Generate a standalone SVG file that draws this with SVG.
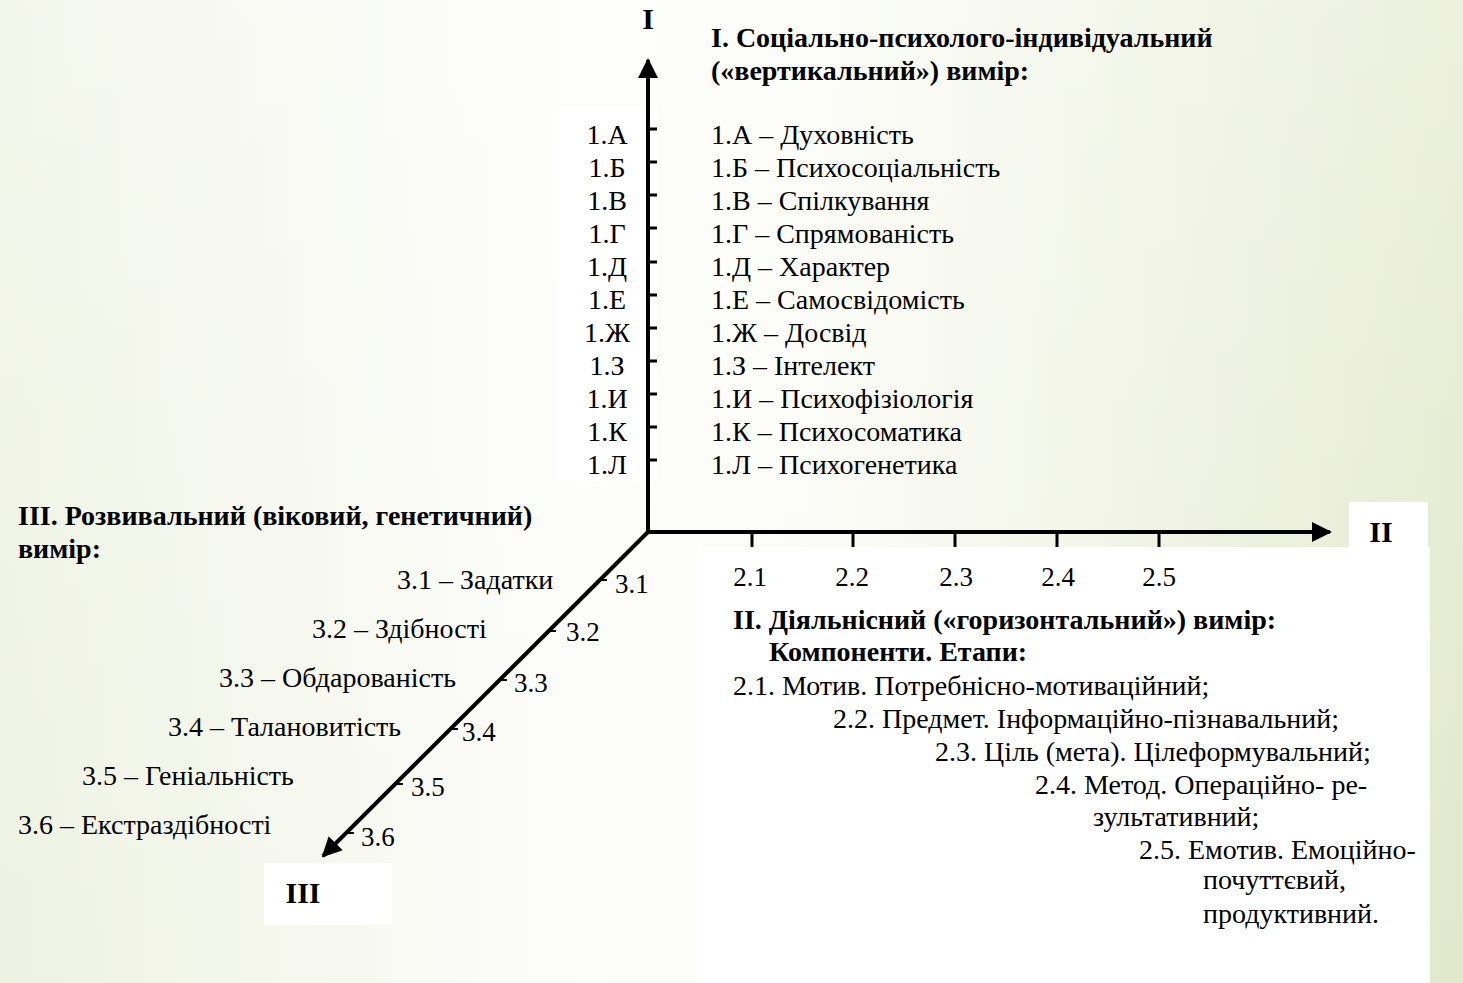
<svg xmlns="http://www.w3.org/2000/svg" width="1463" height="983" viewBox="0 0 1463 983">
<defs>
<linearGradient id="bg" x1="0" y1="0" x2="1" y2="0">
<stop offset="0" stop-color="#eef2e1"/>
<stop offset="0.4" stop-color="#fdfdfb"/>
<stop offset="0.55" stop-color="#fbfcf6"/>
<stop offset="1" stop-color="#e2e8cb"/>
</linearGradient>
<linearGradient id="bgv" x1="0" y1="0" x2="0" y2="1">
<stop offset="0" stop-color="#ffffff" stop-opacity="0.35"/>
<stop offset="1" stop-color="#ffffff" stop-opacity="0"/>
</linearGradient>
<marker id="ah" viewBox="0 0 10 10" refX="9" refY="5" markerWidth="5" markerHeight="5" orient="auto" markerUnits="strokeWidth">
<path d="M0,0 L10,5 L0,10 z" fill="#000"/>
</marker>
<style>
text{font-family:"Liberation Serif","Times New Roman",serif;fill:#000;}
.t{font-size:28px;}
.b{font-size:28px;font-weight:bold;}
.ax{font-size:30px;font-weight:bold;}
.n{font-size:27px;}
.axis{stroke:#000;stroke-width:4;fill:none;}
.tick{stroke:#000;stroke-width:3;}
.tick3{stroke:#000;stroke-width:2;}
</style>
</defs>
<rect x="0" y="0" width="1463" height="983" fill="url(#bg)"/>
<rect x="0" y="0" width="1463" height="983" fill="url(#bgv)"/>
<rect x="556" y="107" width="102" height="375" fill="#ffffff"/>
<rect x="697" y="547" width="733" height="436" fill="#ffffff"/>
<rect x="1349" y="502" width="79" height="45" fill="#ffffff"/>
<rect x="264" y="863" width="128" height="62" fill="#ffffff"/>

<g id="connectors">
<line class="axis" x1="648" y1="534" x2="648" y2="60" marker-end="url(#ah)"/>
<line class="axis" x1="646" y1="532" x2="1330" y2="532" marker-end="url(#ah)"/>
<line class="axis" x1="648" y1="532" x2="323" y2="856" marker-end="url(#ah)"/>
</g>

<g id="axis-I">
<text class="ax" x="648" y="29" text-anchor="middle">I</text>
<g id="ticks-I" class="tick">
<line x1="648" y1="129" x2="657" y2="129"/>
<line x1="648" y1="162" x2="657" y2="162"/>
<line x1="648" y1="195" x2="657" y2="195"/>
<line x1="648" y1="228" x2="657" y2="228"/>
<line x1="648" y1="262" x2="657" y2="262"/>
<line x1="648" y1="295" x2="657" y2="295"/>
<line x1="648" y1="328" x2="657" y2="328"/>
<line x1="648" y1="361" x2="657" y2="361"/>
<line x1="648" y1="394" x2="657" y2="394"/>
<line x1="648" y1="427" x2="657" y2="427"/>
<line x1="648" y1="460" x2="657" y2="460"/>
</g>
<g id="labels-I" class="t" text-anchor="middle">
<text x="607" y="144">1.А</text>
<text x="607" y="177">1.Б</text>
<text x="607" y="210">1.В</text>
<text x="607" y="243">1.Г</text>
<text x="607" y="276">1.Д</text>
<text x="607" y="309">1.Е</text>
<text x="607" y="342">1.Ж</text>
<text x="607" y="375">1.З</text>
<text x="607" y="408">1.И</text>
<text x="607" y="441">1.К</text>
<text x="607" y="474">1.Л</text>
</g>
</g>

<g id="legend-I">
<text class="b" x="711" y="47">І. Соціально-психолого-індивідуальний</text>
<text class="b" x="711" y="80">(«вертикальний») вимір:</text>
<text class="t" x="711" y="144">1.А – Духовність</text>
<text class="t" x="711" y="177">1.Б – Психосоціальність</text>
<text class="t" x="711" y="210">1.В – Спілкування</text>
<text class="t" x="711" y="243">1.Г – Спрямованість</text>
<text class="t" x="711" y="276">1.Д – Характер</text>
<text class="t" x="711" y="309">1.Е – Самосвідомість</text>
<text class="t" x="711" y="342">1.Ж – Досвід</text>
<text class="t" x="711" y="375">1.З – Інтелект</text>
<text class="t" x="711" y="408">1.И – Психофізіологія</text>
<text class="t" x="711" y="441">1.К – Психосоматика</text>
<text class="t" x="711" y="474">1.Л – Психогенетика</text>
</g>

<g id="axis-II">
<text class="ax" x="1381" y="542" text-anchor="middle">II</text>
<g id="ticks-II" class="tick">
<line x1="752" y1="532" x2="752" y2="547"/>
<line x1="853" y1="532" x2="853" y2="547"/>
<line x1="955" y1="532" x2="955" y2="547"/>
<line x1="1057" y1="532" x2="1057" y2="547"/>
<line x1="1159" y1="532" x2="1159" y2="547"/>
</g>
<g id="labels-II" class="n" text-anchor="middle">
<text x="750" y="586">2.1</text>
<text x="852" y="586">2.2</text>
<text x="956" y="586">2.3</text>
<text x="1058" y="586">2.4</text>
<text x="1159" y="586">2.5</text>
</g>
</g>

<g id="legend-II">
<text class="b" x="733" y="629">ІІ. Діяльнісний («горизонтальний») вимір:</text>
<text class="b" x="769" y="661">Компоненти. Етапи:</text>
<text class="t" x="733" y="695">2.1. Мотив. Потребнісно-мотиваційний;</text>
<text class="t" x="833" y="728">2.2. Предмет. Інформаційно-пізнавальний;</text>
<text class="t" x="935" y="761">2.3. Ціль (мета). Цілеформувальний;</text>
<text class="t" x="1035" y="794">2.4. Метод. Операційно- ре-</text>
<text class="t" x="1093" y="826">зультативний;</text>
<text class="t" x="1139" y="859">2.5. Емотив. Емоційно-</text>
<text class="t" x="1203" y="889">почуттєвий,</text>
<text class="t" x="1203" y="923">продуктивний.</text>
</g>

<g id="axis-III">
<text class="ax" x="303" y="903" text-anchor="middle">III</text>
<g id="ticks-III" class="tick3">
<line x1="600" y1="580" x2="607" y2="580"/>
<line x1="549" y1="631" x2="556" y2="631"/>
<line x1="500" y1="680" x2="507" y2="680"/>
<line x1="451" y1="729" x2="458" y2="729"/>
<line x1="396" y1="784" x2="403" y2="784"/>
<line x1="347" y1="833" x2="354" y2="833"/>
</g>
<g id="labels-III" class="n">
<text x="615" y="593">3.1</text>
<text x="566" y="641">3.2</text>
<text x="514" y="692">3.3</text>
<text x="462" y="741">3.4</text>
<text x="411" y="796">3.5</text>
<text x="361" y="846">3.6</text>
</g>
</g>

<g id="legend-III">
<text class="b" x="18" y="525">ІІІ. Розвивальний (віковий, генетичний)</text>
<text class="b" x="18" y="558">вимір:</text>
<text class="t" x="397" y="589">3.1 – Задатки</text>
<text class="t" x="312" y="638">3.2 – Здібності</text>
<text class="t" x="219" y="687">3.3 – Обдарованість</text>
<text class="t" x="168" y="736">3.4 – Талановитість</text>
<text class="t" x="82" y="785">3.5 – Геніальність</text>
<text class="t" x="18" y="834">3.6 – Екстраздібності</text>
</g>
</svg>
